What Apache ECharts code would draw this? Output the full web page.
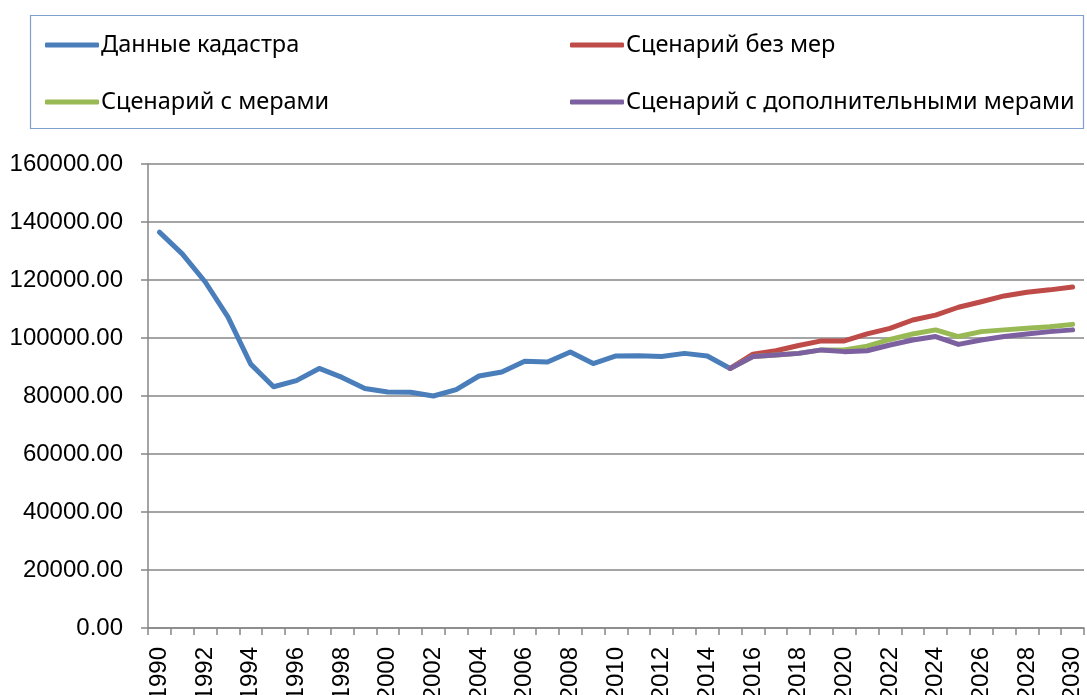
<!DOCTYPE html>
<html>
<head>
<meta charset="utf-8">
<script src="https://cdn.jsdelivr.net/npm/echarts@6/dist/echarts.min.js"></script>
<style>
  html, body { margin: 0; padding: 0; background: #fff; }
  #chart { width: 1087px; height: 695px; }
</style>
</head>
<body>
<div id="chart"></div>
<script>
// Years on the category axis
const years = [];
for (let y = 1990; y <= 2030; y++) years.push(String(y));

const seriesNames = [
  'Данные кадастра',
  'Сценарий без мер',
  'Сценарий с мерами',
  'Сценарий с дополнительными мерами'
];

// Inventory data, 1990–2015
const inventory = [
  136500, 129000, 119400, 107300, 91000, 83200, 85300, 89500, 86400, 82600,
  81400, 81300, 80000, 82200, 86900, 88300, 92000, 91700, 95200, 91200,
  93800, 93900, 93600, 94700, 93800, 89500
];

// Projections, 2015–2030
const noMeasures = [
  89500, 94400, 95600, 97400, 99000, 99000, 101400, 103300, 106200, 107900,
  110600, 112500, 114500, 115800, 116600, 117600
];
const withMeasures = [
  89500, 93600, 94100, 94700, 95900, 95900, 97200, 99500, 101400, 102800,
  100500, 102200, 102800, 103400, 103900, 104700
];
const additionalMeasures = [
  89500, 93600, 94100, 94700, 95900, 95300, 95600, 97600, 99300, 100500,
  97800, 99300, 100500, 101400, 102200, 102800
];

const yTicks = { min: 0, max: 160000, step: 20000 };
const colors = ['#4A7EBB', '#BE4B48', '#98B954', '#7D60A0'];

// Pad a projection so it starts at its first year on the shared axis
function fromYear(startYear, values) {
  const out = years.map(() => null);
  const off = startYear - 1990;
  values.forEach((v, i) => { out[off + i] = v; });
  return out;
}

const seriesData = [
  fromYear(1990, inventory),
  fromYear(2015, noMeasures),
  fromYear(2015, withMeasures),
  fromYear(2015, additionalMeasures)
];

const legendFont = { fontFamily: 'Noto Sans', fontSize: 23.5, color: '#000' };
const legendSlots = [
  { left: 45, top: 33 },
  { left: 570, top: 33 },
  { left: 45, top: 90 },
  { left: 570, top: 90 }
];

const chart = echarts.init(document.getElementById('chart'), null, { renderer: 'canvas' });

chart.setOption({
  animation: false,
  backgroundColor: '#fff',
  color: colors,
  textStyle: { fontFamily: 'Liberation Sans' },
  graphic: [{
    type: 'rect',
    shape: { x: 30.5, y: 15.5, width: 1053, height: 113 },
    style: { fill: 'none', stroke: '#7FA0CF', lineWidth: 1.2 },
    silent: true
  }],
  legend: seriesNames.map((name, i) => ({
    data: [name],
    left: legendSlots[i].left,
    top: legendSlots[i].top,
    icon: 'roundRect',
    itemWidth: 54,
    itemHeight: 5,
    itemGap: 0,
    padding: 0,
    textStyle: Object.assign({ padding: [0, 0, 0, -3] }, legendFont),
    selectedMode: false
  })),
  grid: {
    left: 148, right: 3, top: 164, bottom: 67,
    containLabel: false,
    outerBoundsMode: 'none'
  },
  xAxis: {
    type: 'category',
    data: years,
    boundaryGap: true,
    axisLine: { lineStyle: { color: '#868686', width: 1.5 } },
    axisTick: { show: true, interval: 0, length: 7, lineStyle: { color: '#868686', width: 1.5 } },
    axisLabel: {
      interval: 1,
      rotate: 90,
      margin: 19,
      fontFamily: 'Liberation Sans',
      fontSize: 24,
      color: '#000'
    },
    splitLine: { show: false }
  },
  yAxis: {
    type: 'value',
    min: yTicks.min,
    max: yTicks.max,
    interval: yTicks.step,
    axisLine: { show: true, lineStyle: { color: '#868686', width: 1.5 } },
    axisTick: { show: true, length: 7, lineStyle: { color: '#868686', width: 1.5 } },
    axisLabel: {
      margin: 25,
      fontFamily: 'Liberation Sans',
      fontSize: 24,
      color: '#000',
      formatter: v => v.toFixed(2)
    },
    splitLine: { show: true, lineStyle: { color: '#868686', width: 1.6 } }
  },
  series: seriesNames.map((name, i) => ({
    name,
    type: 'line',
    data: seriesData[i],
    showSymbol: false,
    symbol: 'none',
    connectNulls: false,
    lineStyle: { width: 5, color: colors[i], cap: 'round', join: 'round' },
    itemStyle: { color: colors[i] }
  }))
});
</script>
</body>
</html>
